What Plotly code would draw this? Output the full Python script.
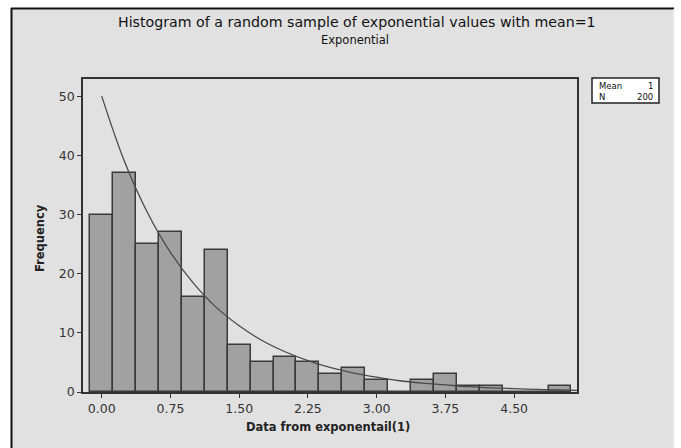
import plotly.graph_objects as go

# Histogram data (bin centers, width 0.25)
bin_centers = [0.00, 0.25, 0.50, 0.75, 1.00, 1.25, 1.50, 1.75, 2.00, 2.25, 2.50,
               2.75, 3.00, 3.25, 3.50, 3.75, 4.00, 4.25, 4.50, 4.75, 5.00]
counts = [30, 37, 25, 27, 16, 24, 8, 5, 6, 5, 3, 4, 2, 0, 2, 3, 1, 1, 0, 0, 1]
bin_width = 0.25

# Fitted exponential curve
curve_x = [0.0, 0.25, 0.5, 0.75, 1.0, 1.25, 1.5, 1.75, 2.0, 2.25, 2.5, 2.75, 3.0,
           3.25, 3.5, 3.75, 4.0, 4.25, 4.5, 4.75, 5.0, 5.19]
curve_y = [50.0, 38.9, 30.3, 23.6, 18.4, 14.3, 11.2, 8.7, 6.8, 5.3, 4.1, 3.2, 2.5,
           1.9, 1.5, 1.2, 0.9, 0.7, 0.56, 0.43, 0.34, 0.28]

x_tick_vals = [0.0, 0.75, 1.5, 2.25, 3.0, 3.75, 4.5]
x_tick_text = ["0.00", "0.75", "1.50", "2.25", "3.00", "3.75", "4.50"]
y_tick_vals = [0, 10, 20, 30, 40, 50]

title_text = "Histogram of a random sample of exponential values with mean=1"
subtitle_text = "Exponential"
x_title = "Data from exponentail(1)"
y_title = "Frequency"
stats_labels = ["Mean", "N"]
stats_values = ["1", "200"]

W, H = 681, 448
L, R, T, B = 83, 104, 79, 56
pw, ph = W - L - R, H - T - B

def px(x):
    return (x - L) / pw

def py(y):
    return (H - B - y) / ph

fig = go.Figure()
fig.add_trace(go.Bar(x=bin_centers, y=counts, width=bin_width,
                     marker=dict(color="#a1a1a1", line=dict(color="#3a3a3a", width=1.5)),
                     showlegend=False))
fig.add_trace(go.Scatter(x=curve_x, y=curve_y, mode="lines", line_shape="spline",
                         line=dict(color="#4a4a4a", width=1.3), showlegend=False))

font_main = "DejaVu Sans, Verdana, sans-serif"
shapes = [
    # outer gray panel with border
    dict(type="rect", xref="paper", yref="paper", x0=px(11), x1=px(674), y0=py(460), y1=py(8),
         fillcolor="#e1e1e1", line=dict(width=0), layer="below"),
    dict(type="line", xref="paper", yref="paper", x0=px(11), x1=px(674), y0=py(8.5), y1=py(8.5),
         line=dict(color="#111111", width=2), layer="below"),
    dict(type="line", xref="paper", yref="paper", x0=px(11.5), x1=px(11.5), y0=py(460), y1=py(8),
         line=dict(color="#111111", width=2), layer="below"),
    dict(type="line", xref="paper", yref="paper", x0=px(674), x1=px(674), y0=py(460), y1=py(9),
         line=dict(color="#f2f2f2", width=1.5), layer="below"),
    # stats box
    dict(type="rect", xref="paper", yref="paper", x0=px(592), x1=px(659), y0=py(103), y1=py(78),
         fillcolor="white", line=dict(color="#222222", width=1.5)),
]

annotations = [
    dict(text=title_text, xref="paper", yref="paper", x=px(357), y=py(22), showarrow=False,
         font=dict(family=font_main, size=14.2, color="#111111"), xanchor="center", yanchor="middle"),
    dict(text=subtitle_text, xref="paper", yref="paper", x=px(355), y=py(40), showarrow=False,
         font=dict(family=font_main, size=11.5, color="#111111"), xanchor="center", yanchor="middle"),
    dict(text="<b>" + y_title + "</b>", xref="paper", yref="paper", x=px(40), y=py(238),
         textangle=-90, showarrow=False,
         font=dict(family=font_main, size=11.5, color="#222222"), xanchor="center", yanchor="middle"),
    dict(text="<b>" + x_title + "</b>", xref="paper", yref="paper", x=px(328), y=py(427),
         showarrow=False,
         font=dict(family=font_main, size=11.5, color="#222222"), xanchor="center", yanchor="middle"),
]
for i, (lab, val) in enumerate(zip(stats_labels, stats_values)):
    yy = py(86 + i * 11)
    annotations.append(dict(text=lab, xref="paper", yref="paper", x=px(597), y=yy, showarrow=False,
                            xanchor="left", yanchor="middle",
                            font=dict(family=font_main, size=8.5, color="#111111")))
    annotations.append(dict(text=val, xref="paper", yref="paper", x=px(655), y=yy, showarrow=False,
                            xanchor="right", yanchor="middle",
                            font=dict(family=font_main, size=8.5, color="#111111")))

fig.update_layout(
    width=W, height=H,
    margin=dict(l=L, r=R, t=T, b=B, pad=0),
    paper_bgcolor="white",
    plot_bgcolor="white",
    bargap=0,
    shapes=shapes,
    annotations=annotations,
    xaxis=dict(range=[-0.204, 5.186], tickvals=x_tick_vals, ticktext=x_tick_text,
               ticks="outside", ticklen=4, tickcolor="#333333", showgrid=False, zeroline=False,
               showline=True, linecolor="#333333", linewidth=1.5, mirror=True,
               tickfont=dict(family=font_main, size=12.5, color="#333333")),
    yaxis=dict(range=[0, 52.9], tickvals=y_tick_vals, ticks="outside", ticklen=4,
               tickcolor="#333333", showgrid=False, zeroline=False,
               showline=True, linecolor="#333333", linewidth=1.5, mirror=True,
               tickfont=dict(family=font_main, size=12.5, color="#333333")),
)

fig.write_html("out.html")
